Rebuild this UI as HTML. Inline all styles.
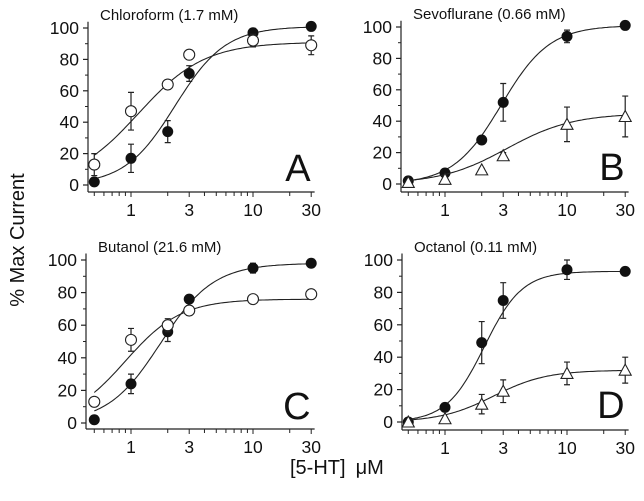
<!DOCTYPE html>
<html><head><meta charset="utf-8"><style>
html,body{margin:0;padding:0;background:#fff;}
svg text{font-family:"Liberation Sans",Arial,sans-serif;fill:#111;}
</style></head><body>
<svg id="fig" width="644" height="496" viewBox="0 0 644 496" xmlns="http://www.w3.org/2000/svg">
<text transform="translate(24,240) rotate(-90)" text-anchor="middle" font-size="20">% Max Current</text>
<text x="290" y="474" font-size="20">[5-HT]<tspan dx="10">μM</tspan></text>
</svg>
<script>
// x values (µM 5-HT)
const concs = [0.5, 1, 2, 3, 10, 30];
const xTicks = [1, 3, 10, 30];
const yTicks = [0, 20, 40, 60, 80, 100];
// Panel A: Chloroform
const aFilled = [2, 17, 34, 71, 97, 101];
const aFilledErr = [0, 9, 7, 5, 2, 0];
const aOpen = [13, 47, 64, 83, 92, 89];
const aOpenErr = [7, 12, 3, 3, 4, 6];
// Panel B: Sevoflurane
const bFilled = [2, 7, 28, 52, 94, 101];
const bFilledErr = [0, 2, 2, 12, 4, 0];
const bTri = [1, 3, 9, 18, 38, 43];
const bTriErr = [0, 1, 1, 2, 11, 13];
// Panel C: Butanol
const cFilled = [2, 24, 56, 76, 95, 98];
const cFilledErr = [0, 6, 6, 2, 3, 0];
const cOpen = [13, 51, 60, 69, 76, 79];
const cOpenErr = [0, 7, 4, 3, 0, 0];
// Panel D: Octanol
const dFilled = [0, 9, 49, 75, 94, 93];
const dFilledErr = [0, 0, 13, 11, 6, 0];
const dTri = [0, 2, 11, 19, 30, 32];
const dTriErr = [0, 0, 6, 7, 7, 8];
// Hill fit parameters [max, EC50, n]
const aFilledFit = [101, 2.3, 2.1];
const aOpenFit = [91, 1.15, 1.6];
const bFilledFit = [101, 2.9, 2.2];
const bTriFit = [45, 3.2, 1.6];
const cFilledFit = [98, 1.75, 2.0];
const cOpenFit = [76, 0.9, 1.9];
const dFilledFit = [93, 2.1, 2.8];
const dTriFit = [32, 2.5, 2.0];

const NS = "http://www.w3.org/2000/svg";
const svg = document.getElementById('fig');
function mk(tag, attrs, parent) {
  const e = document.createElementNS(NS, tag);
  for (const k in attrs) e.setAttribute(k, attrs[k]);
  (parent || svg).appendChild(e);
  return e;
}
const panels = [
  {id:'a', ax:88, x1:131, y0:185, y100:28, xl:192, title:'Chloroform (1.7 mM)', letter:'A',
   series:[[aFilled,aFilledErr,'filled',aFilledFit],[aOpen,aOpenErr,'open',aOpenFit]]},
  {id:'b', ax:401, x1:445, y0:184, y100:27, xl:192, title:'Sevoflurane (0.66 mM)', letter:'B',
   series:[[bFilled,bFilledErr,'filled',bFilledFit],[bTri,bTriErr,'tri',bTriFit]]},
  {id:'c', ax:86, x1:131, y0:423, y100:260, xl:429, title:'Butanol (21.6 mM)', letter:'C',
   series:[[cFilled,cFilledErr,'filled',cFilledFit],[cOpen,cOpenErr,'open',cOpenFit]]},
  {id:'d', ax:402, x1:445, y0:422, y100:260, xl:430, title:'Octanol (0.11 mM)', letter:'D',
   series:[[dFilled,dFilledErr,'filled',dFilledFit],[dTri,dTriErr,'tri',dTriFit]]}
];
const DEC = 122;
panels.forEach(p => {
  const g = mk('g', {});
  
  
  const X = v => p.x1 + Math.log10(v) * DEC;
  const Y = v => p.y0 + (p.y100 - p.y0) * v / 100;
  const xEnd = X(32);
  const ya = mk('line', {x1:p.ax, y1:Y(104), x2:p.ax, y2:p.xl, stroke:'#222', 'stroke-width':1.2}, g);
  
  
  const xa = mk('line', {x1:p.ax, y1:p.xl, x2:xEnd, y2:p.xl, stroke:'#222', 'stroke-width':1.2}, g);
  
  
  yTicks.forEach(t => {
    mk('line', {x1:p.ax-5, y1:Y(t), x2:p.ax, y2:Y(t), stroke:'#222', 'stroke-width':1.2}, g);
    if (t < 100) mk('line', {x1:p.ax-3, y1:Y(t+10), x2:p.ax, y2:Y(t+10), stroke:'#222', 'stroke-width':1}, g);
    const tx = mk('text', {x:p.ax-9, y:Y(t)+6, 'text-anchor':'end', 'font-size':17.5}, g);
    tx.textContent = t;
    
    
  });
  [0.5,0.6,0.7,0.8,0.9,1,2,3,4,5,6,7,8,9,10,20,30].forEach(v => {
    const big = xTicks.indexOf(v) >= 0;
    mk('line', {x1:X(v), y1:p.xl, x2:X(v), y2:p.xl+(big?5:4), stroke:'#222', 'stroke-width':1}, g);
  });
  xTicks.forEach(t => {
    const tx = mk('text', {x:X(t), y:p.xl+24, 'text-anchor':'middle', 'font-size':17.5}, g);
    tx.textContent = t;
    
    
  });
  const ti = mk('text', {x:p.ax+12, y:p.y100-8, 'font-size':15}, g);
  ti.textContent = p.title;
  
  
  const le = mk('text', {x:xEnd-4, y:p.y0-4, 'text-anchor':'end', 'font-size':38}, g);
  le.textContent = p.letter;
  
  
  p.series.forEach(([vals, errs, kind, fit]) => {
    let d = '';
    for (let i = 0; i <= 120; i++) {
      const lx = Math.log10(0.5) + (Math.log10(30) - Math.log10(0.5)) * i / 120;
      const c = Math.pow(10, lx);
      const v = fit[0] / (1 + Math.pow(fit[1] / c, fit[2]));
      d += (i ? 'L' : 'M') + X(c).toFixed(1) + ',' + Y(v).toFixed(1);
    }
    const cu = mk('path', {d:d, fill:'none', stroke:'#222', 'stroke-width':1.1}, g);
    
    
    vals.forEach((v, i) => {
      const cx = X(concs[i]), cy = Y(v), e = errs[i];
      if (e > 0) {
        const eb = mk('path', {d:`M${cx},${Y(v+e)}V${Y(v-e)}M${cx-3},${Y(v+e)}h6M${cx-3},${Y(v-e)}h6`, stroke:'#222', 'stroke-width':1.2, fill:'none'}, g);
        
        
      }
      let m;
      if (kind === 'filled') m = mk('circle', {cx:cx, cy:cy, r:5.5, fill:'#111'}, g);
      else if (kind === 'open') m = mk('circle', {cx:cx, cy:cy, r:5.5, fill:'#fff', stroke:'#222', 'stroke-width':1.1}, g);
      else m = mk('path', {d:`M${cx},${cy-6}L${cx+6},${cy+5}L${cx-6},${cy+5}Z`, fill:'#fff', stroke:'#222', 'stroke-width':1.1}, g);
      
      
    });
  });
});
</script>
</body></html>
